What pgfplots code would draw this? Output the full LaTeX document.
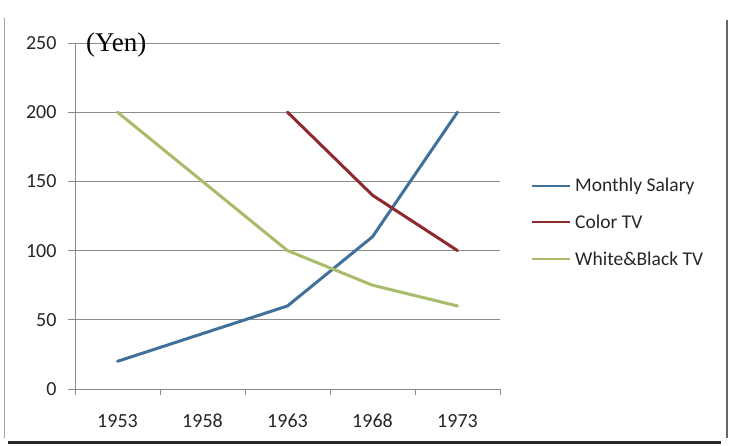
\documentclass[border=0pt]{standalone}
\usepackage{pgfplots}
\pgfplotsset{compat=1.18}
\usepackage{fontspec}
\setmainfont{Carlito}
\newfontfamily\timesf{Liberation Serif}
\definecolor{salary}{HTML}{41709A}
\definecolor{colortv}{HTML}{8C2A2E}
\definecolor{wbtv}{HTML}{A8BC6C}
\definecolor{gridc}{HTML}{8C8C8C}
\begin{document}
\begin{tikzpicture}[x=1pt,y=1pt]
\useasboundingbox (0,0) rectangle (729,446);
% frame
\draw[gray!70, line width=1pt] (4,428) -- (4,8);
\draw[gray!80!black, line width=1.2pt] (727,426) -- (727,8);
\draw[black!85, line width=3pt] (8,3) -- (721,3);
\begin{axis}[
  at={(75pt,57pt)}, anchor=south west,
  width=425pt, height=346pt, scale only axis,
  xmin=-0.5, xmax=4.5, ymin=0, ymax=250,
  axis x line*=bottom, axis y line*=left,
  axis line style={gridc, line width=0.8pt},
  xtick={0,1,2,3,4},
  xticklabels={1953,1958,1963,1968,1973},
  minor xtick={-0.5,0.5,1.5,2.5,3.5,4.5},
  ytick={0,50,100,150,200,250},
  ymajorgrids,
  major grid style={gridc, line width=0.8pt},
  tick align=outside,
  major x tick style={draw=none},
  minor x tick style={gridc, line width=0.8pt},
  major y tick style={gridc, line width=0.8pt},
  major tick length=7pt, minor tick length=6pt,
  tick label style={font=\fontsize{20}{24}\selectfont, text=black!85},
  xticklabel style={anchor=base, yshift=-32pt},
  yticklabel style={xshift=-8pt},
  /pgf/number format/assume math mode=true,
  clip=false,
]
\addplot[salary, line width=3pt, line join=round, line cap=round] coordinates {(0,20) (1,40) (2,60) (3,110) (4,200)};
\addplot[colortv, line width=3pt, line join=round, line cap=round] coordinates {(2,200) (3,140) (4,100)};
\addplot[wbtv, line width=3pt, line join=round, line cap=round] coordinates {(0,200) (1,150) (2,100) (3,75) (4,60)};
\end{axis}
% legend
\begin{scope}[font=\fontsize{19.5}{23}\selectfont]
\draw[salary, line width=2.5pt] (532,260) -- (570,260);
\node[anchor=west, inner sep=0pt, text=black!85] at (575,260) {Monthly Salary};
\draw[colortv, line width=2.5pt] (532,224) -- (570,224);
\node[anchor=west, inner sep=0pt, text=black!85] at (575,224) {Color TV};
\draw[wbtv, line width=2.5pt] (532,187) -- (570,187);
\node[anchor=west, inner sep=0pt, text=black!85] at (575,187) {White\&Black TV};
\end{scope}
\node[anchor=west, inner sep=0pt, font=\timesf\fontsize{27}{30}\selectfont] at (86,401) {(Yen)};
\end{tikzpicture}
\end{document}
